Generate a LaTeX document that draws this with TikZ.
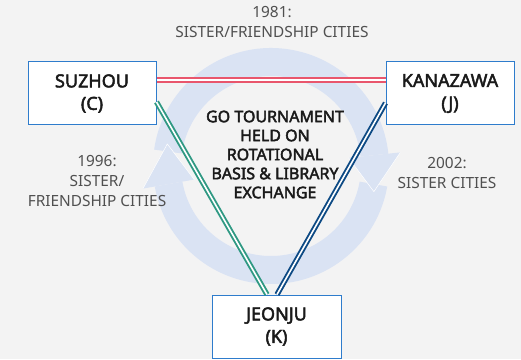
\documentclass[tikz,border=0pt]{standalone}
\usepackage{fontspec}
\setmainfont{Noto Sans}
\newfontfamily\heavyf{Noto Sans}[FakeBold=2.6]
\usetikzlibrary{calc}
\definecolor{bgc}{HTML}{F3F3F3}
\definecolor{ringc}{HTML}{DAE3F3}
\definecolor{boxc}{HTML}{2E7CCC}
\definecolor{redc}{HTML}{E9566C}
\definecolor{tealc}{HTML}{2F9983}
\definecolor{bluec}{HTML}{0D4A84}
\definecolor{labc}{HTML}{505050}
\definecolor{txtc}{HTML}{1A1A1A}
\tikzset{
  citybox/.style={draw=boxc, line width=1pt, fill=white, minimum width=128pt, minimum height=63pt,
    inner sep=0pt, align=center, text=txtc, font=\heavyf\fontsize{18}{22.5}\selectfont},
  lab/.style={align=center, text=labc, font=\fontsize{15.4}{20}\selectfont},
  dbl/.style={line width=2.1pt, double=white, double distance=1.9pt},
  dblthin/.style={line width=1.9pt, double=white, double distance=1.6pt},
  arrowedge/.style={draw=white, line width=0.5pt, line join=miter}
}
\begin{document}
\begin{tikzpicture}[x=1pt,y=1pt]
\fill[bgc] (0,0) rectangle (521,359);
\useasboundingbox (0,0) rectangle (521,359);
\coordinate (C) at (271,193);
% ring bodies
\fill[ringc] ($(C)+(172:118)$) arc[start angle=172, end angle=6, radius=118]
  -- ($(C)+(6:90)$) arc[start angle=6, end angle=172, radius=90] -- cycle;
\fill[ringc] ($(C)+(-10:118)$) arc[start angle=-10, end angle=-170, radius=118]
  -- ($(C)+(-170:90)$) arc[start angle=-170, end angle=-10, radius=90] -- cycle;
% arrowheads
\fill[ringc] ($(C)+(6:130)$) -- ($(C)+(-14:106)$) -- ($(C)+(6:78)$) -- cycle;
\draw[arrowedge] ($(C)+(6:130)$) -- ($(C)+(-14:106)$) -- ($(C)+(6:78)$);
\fill[ringc] ($(C)+(-170:130)$) -- ($(C)+(168:106)$) -- ($(C)+(-170:78)$) -- cycle;
\draw[arrowedge] ($(C)+(-170:130)$) -- ($(C)+(168:106)$) -- ($(C)+(-170:78)$);
% boxes
\node[citybox] (suzhou) at (92,265.5) {SUZHOU\\(C)};
\node[citybox] (kanazawa) at (450,265.5) {KANAZAWA\\(J)};
\node[citybox, minimum width=129pt] (jeonju) at (276.5,32.5) {JEONJU\\(K)};
% connectors
\draw[dbl, draw=redc] ([yshift=13.5pt]suzhou.east) -- ([yshift=13.5pt]kanazawa.west);
\draw[dblthin, draw=tealc] ([yshift=-8.5pt]suzhou.east) -- ([xshift=-9.5pt]jeonju.north);
\draw[dblthin, draw=bluec] ([yshift=-9.5pt]kanazawa.west) -- ([xshift=0.5pt]jeonju.north);
% texts
\node[align=center, text=txtc, font=\heavyf\fontsize{16}{19}\selectfont] (center) at (275,204.5)
  {GO TOURNAMENT\\HELD ON\\ROTATIONAL\\BASIS \& LIBRARY\\EXCHANGE};
\node[lab] (l1981) at (272,336.5) {1981:\\SISTER/FRIENDSHIP CITIES};
\node[lab] (l1996) at (97,178) {1996:\\SISTER/\\FRIENDSHIP CITIES};
\node[lab] (l2002) at (447,186.5) {2002:\\SISTER CITIES};
\end{tikzpicture}
\end{document}
